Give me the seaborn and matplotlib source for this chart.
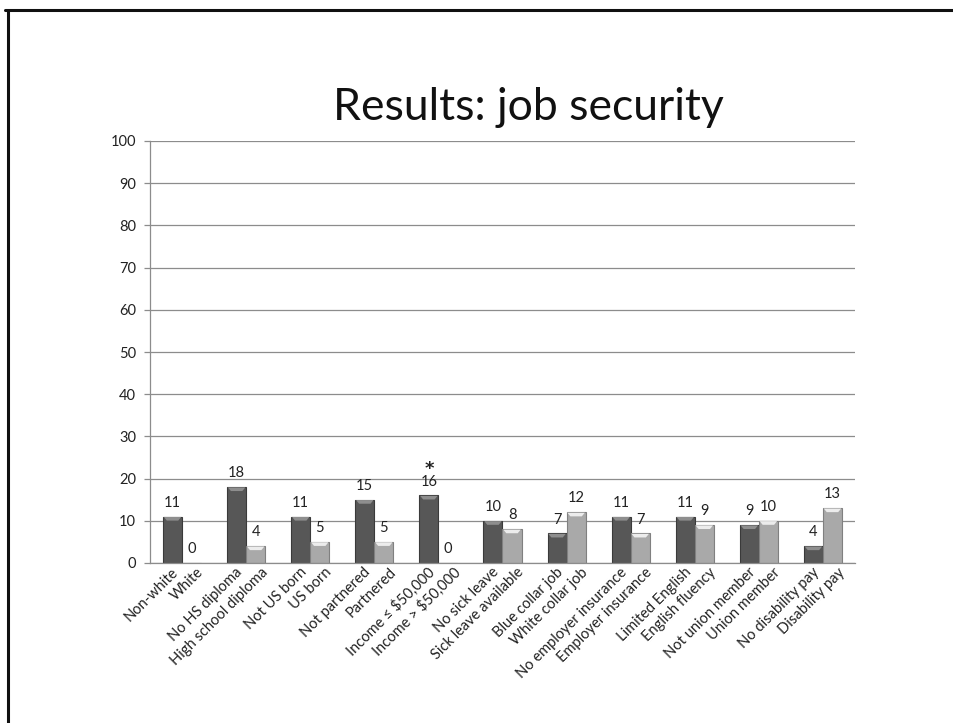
import matplotlib
matplotlib.use("Agg")
import matplotlib.pyplot as plt
from matplotlib.lines import Line2D
import seaborn as sns
import pandas as pd
import numpy as np

# ---- data ----
pairs = ["Race", "Education", "Nativity", "Partner", "Income", "Sick leave",
         "Job type", "Insurance", "English", "Union", "Disability"]
labels_a = ["Non-white", "No HS diploma", "Not US born", "Not partnered",
            "Income \u2264 $50,000", "No sick leave", "Blue collar job",
            "No employer insurance", "Limited English", "Not union member",
            "No disability pay"]
labels_b = ["White", "High school diploma", "US born", "Partnered",
            "Income > $50,000", "Sick leave available", "White collar job",
            "Employer insurance", "English fluency", "Union member",
            "Disability pay"]
values_a = [11, 18, 11, 15, 16, 10, 7, 11, 11, 9, 4]
values_b = [0, 4, 5, 5, 0, 8, 12, 7, 9, 10, 13]
yticks = list(range(0, 101, 10))
title = "Results: job security"
star_label = "Income \u2264 $50,000"

df = pd.DataFrame({
    "pair": pairs * 2,
    "series": ["a"] * len(pairs) + ["b"] * len(pairs),
    "value": values_a + values_b,
    "label": labels_a + labels_b,
})

sns.set_theme(style="white")
plt.rcParams["font.family"] = ["Lato", "DejaVu Sans"]

fig = plt.figure(figsize=(9.54, 7.23), dpi=100)
ax = fig.add_axes([150 / 954, 1 - 563 / 723, 705 / 954, 422 / 723])

dark, light = "#575757", "#a9a9a9"
sns.barplot(data=df, x="pair", y="value", hue="series", order=pairs,
            hue_order=["a", "b"], palette=[dark, light], width=0.594,
            gap=0, legend=False, ax=ax, errorbar=None, saturation=1)

# style bars + bevel look, value labels and category labels
for cont, labs, vals, edge, top, lab_dx in zip(ax.containers, [labels_a, labels_b],
                                               [values_a, values_b],
                                               ["#3a3a3a", "#808080"],
                                               ["#8e8e8e", "#ececec"],
                                               [-1.0, 3.5]):
    for bar, lab, v in zip(cont, labs, vals):
        bar.set_edgecolor(edge)
        bar.set_linewidth(0.8)
        x0, w, h = bar.get_x(), bar.get_width(), bar.get_height()
        if h > 0:
            ax.add_patch(plt.Polygon([(x0 + w * 0.04, h - 0.08), (x0 + w * 0.96, h - 0.08),
                                      (x0 + w * 0.80, h - 0.95), (x0 + w * 0.20, h - 0.95)],
                                     closed=True, color=top, lw=0,
                                     zorder=bar.get_zorder() + 0.1))
        cx = x0 + w / 2
        ax.annotate(f"{v}", (cx, h), xytext=(0, 5), textcoords="offset points",
                    ha="center", va="bottom", fontsize=10.5, color="#222222")
        if lab == star_label:
            ax.annotate("*", (cx, h), xytext=(0, 19), textcoords="offset points",
                        ha="center", va="center", fontsize=13, fontweight="bold",
                        family="DejaVu Sans", color="#222222")
        ax.annotate(lab, (cx, 0), xycoords=("data", "axes fraction"),
                    xytext=(lab_dx, -1.5), textcoords="offset points",
                    rotation=45, rotation_mode="anchor", ha="right", va="top",
                    fontsize=10.5, color="#222222", annotation_clip=False)

ax.set_ylim(0, 100)
ax.set_xlim(-0.5, len(pairs) - 0.5)
ax.set_yticks(yticks)
ax.yaxis.grid(True, color="#8c8c8c", linewidth=0.9)
ax.set_axisbelow(True)
ax.tick_params(axis="y", labelsize=10.5, left=True, length=4, color="#8c8c8c",
               width=0.9, pad=6, labelcolor="#222222")
ax.set_xticks([])
ax.set_xlabel("")
ax.set_ylabel("")
for s in ["top", "right"]:
    ax.spines[s].set_visible(False)
for s in ["left", "bottom"]:
    ax.spines[s].set_color("#8c8c8c")
    ax.spines[s].set_linewidth(0.9)

fig.text(528 / 954, 1 - 108 / 723, title, ha="center", va="center",
         fontsize=32, color="#111111")

# slide frame
fig.add_artist(Line2D([8 / 954, 8 / 954], [0, 1 - 10 / 723], color="#111111",
                      lw=2.2, transform=fig.transFigure))
fig.add_artist(Line2D([5 / 954, 1], [1 - 10 / 723, 1 - 10 / 723], color="#111111",
                      lw=2.2, transform=fig.transFigure))

fig.savefig("out.png", dpi=100, facecolor="white")
